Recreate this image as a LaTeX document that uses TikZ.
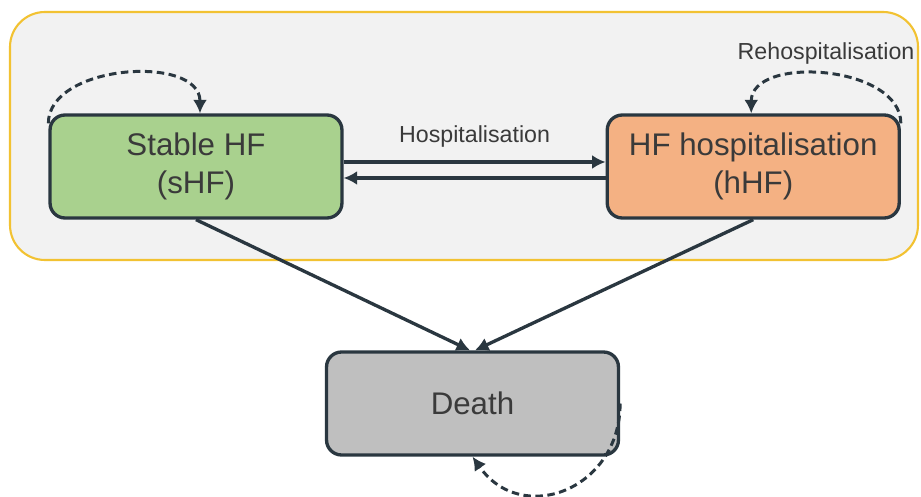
\documentclass[tikz,border=0pt]{standalone}
\usepackage{fontspec}
\setmainfont{Liberation Sans}
\usepackage{xcolor}
\usepackage{tikz}
\usetikzlibrary{arrows.meta,positioning}

\definecolor{frameyellow}{HTML}{F2C232}
\definecolor{framefill}{HTML}{F2F2F2}
\definecolor{stablegreen}{HTML}{A9D18E}
\definecolor{hosporange}{HTML}{F4B183}
\definecolor{deathgray}{HTML}{BFBFBF}
\definecolor{linedark}{HTML}{2A3740}
\definecolor{textgray}{HTML}{3A3A3A}

\begin{document}
\begin{tikzpicture}[x=0.02cm,y=0.02cm,
  state/.style={draw=linedark,line width=1.9pt,rounded corners=0.3cm,
    minimum width=5.84cm,minimum height=2.06cm,align=center,
    text=textgray,font=\fontsize{17.8}{21.6}\selectfont},
  flowline/.style={draw=linedark,line width=1.9pt,-{Latex[length=0.27cm,width=0.28cm]}},
  selfloop/.style={flowline,line width=1.7pt,dash pattern=on 0.15cm off 0.09cm},
  lbl/.style={text=textgray,font=\fontsize{13.2}{15}\selectfont}]
\useasboundingbox (0,0) rectangle (921,497);

% Frame round the two living states
\draw[frameyellow,line width=1.2pt,fill=framefill,rounded corners=0.7cm] (10,237) rectangle (918,485);

% States
\node[state,fill=stablegreen] (sHF) at (196,330.5) {Stable HF\\(sHF)};
\node[state,fill=hosporange,right=5.24cm of sHF] (hHF) {HF hospitalisation\\(hHF)};
\node[state,fill=deathgray] (death) at (472.5,93.5) {Death};

% Transitions
\draw[flowline] ([yshift=0.09cm]sHF.east) -- node[lbl,above=0.15cm] {Hospitalisation} ([yshift=0.09cm]hHF.west);
\draw[flowline] ([yshift=-0.23cm]hHF.west) -- ([yshift=-0.23cm]sHF.east);
\draw[flowline] (sHF.south) -- ([xshift=-0.05cm]death.north);
\draw[flowline] (hHF.south) -- ([xshift=0.05cm]death.north);

% Staying in the same state
\draw[selfloop] ([yshift=-0.2cm]sHF.north west) to[out=90,in=90] ([xshift=0.08cm]sHF.north);
\draw[selfloop] ([yshift=-0.2cm]hHF.north east) to[out=90,in=90] node[lbl,above=0.05cm] {Rehospitalisation} ([xshift=-0.04cm]hHF.north);
\draw[selfloop] (death.east) to[out=-90,in=-55,looseness=1.4] (death.south);
\end{tikzpicture}
\end{document}
